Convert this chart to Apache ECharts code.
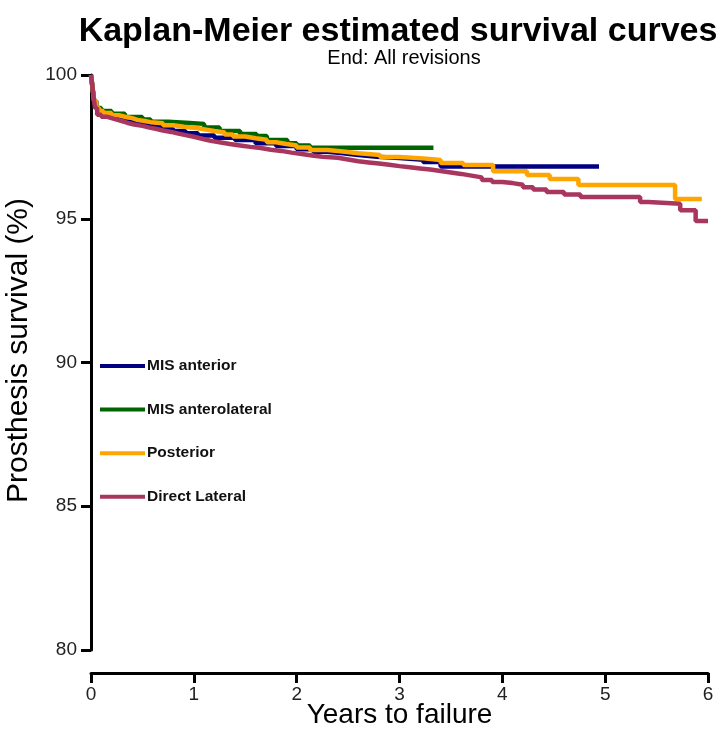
<!DOCTYPE html>
<html>
<head>
<meta charset="utf-8">
<script src="https://cdn.jsdelivr.net/npm/echarts@6/dist/echarts.min.js"></script>
<style>
html,body{margin:0;padding:0;background:#fff;}
#c{width:722px;height:729px;}
</style>
</head>
<body>
<div id="c"></div>
<script>
// ---- data ----
var seriesNames = ['MIS anterior', 'MIS anterolateral', 'Posterior', 'Direct Lateral'];
var xTicks = [0, 1, 2, 3, 4, 5, 6];
var yTicks = [80, 85, 90, 95, 100];

var antTime = [0, 0.01, 0.02, 0.03, 0.05, 0.08, 0.12, 0.2, 0.27, 0.33, 0.4, 0.45, 0.52, 0.58, 0.7, 0.8, 0.92, 1.04, 1.2, 1.4, 1.6, 1.8, 2.0, 2.16, 2.3, 2.45, 2.6, 2.78, 3.0, 3.23, 3.4, 4.94];
var antSurv = [100, 99.7, 99.4, 99.1, 98.85, 98.7, 98.62, 98.52, 98.45, 98.38, 98.33, 98.28, 98.24, 98.2, 98.12, 98.05, 97.97, 97.9, 97.82, 97.74, 97.63, 97.53, 97.42, 97.33, 97.28, 97.22, 97.16, 97.11, 97.05, 96.97, 96.82, 96.82];

var antlatTime = [0, 0.01, 0.02, 0.03, 0.05, 0.1, 0.2, 0.33, 0.5, 0.58, 0.75, 0.96, 1.1, 1.25, 1.45, 1.61, 1.71, 1.91, 2.0, 2.13, 3.33];
var antlatSurv = [100, 99.7, 99.4, 99.1, 98.85, 98.75, 98.65, 98.54, 98.45, 98.37, 98.33, 98.3, 98.17, 98.05, 97.95, 97.88, 97.74, 97.63, 97.55, 97.47, 97.47];

var postTime = [0, 0.01, 0.02, 0.03, 0.05, 0.08, 0.12, 0.2, 0.27, 0.33, 0.4, 0.45, 0.52, 0.58, 0.7, 0.8, 0.9, 1.04, 1.12, 1.2, 1.3, 1.38, 1.5, 1.6, 1.71, 1.8, 1.9, 2.0, 2.13, 2.3, 2.45, 2.6, 2.81, 3.0, 3.23, 3.4, 3.62, 3.91, 4.24, 4.46, 4.74, 5.68, 5.94];
var postSurv = [100, 99.7, 99.4, 99.1, 98.85, 98.75, 98.68, 98.6, 98.55, 98.5, 98.44, 98.4, 98.36, 98.32, 98.25, 98.2, 98.15, 98.1, 98.05, 98.0, 97.93, 97.86, 97.8, 97.75, 97.66, 97.6, 97.55, 97.48, 97.39, 97.34, 97.28, 97.22, 97.15, 97.1, 97.04, 96.94, 96.87, 96.65, 96.52, 96.38, 96.17, 95.69, 95.69];

var dlTime = [0, 0.01, 0.02, 0.03, 0.04, 0.06, 0.1, 0.15, 0.2, 0.25, 0.3, 0.35, 0.42, 0.5, 0.57, 0.64, 0.7, 0.78, 0.85, 0.92, 1.0, 1.06, 1.12, 1.18, 1.25, 1.35, 1.45, 1.55, 1.65, 1.75, 1.85, 1.95, 2.05, 2.15, 2.25, 2.4, 2.5, 2.6, 2.7, 2.8, 2.9, 3.0, 3.1, 3.2, 3.3, 3.4, 3.5, 3.6, 3.7, 3.8, 3.9, 4.0, 4.1, 4.2, 4.3, 4.43, 4.6, 4.76, 5.34, 5.42, 5.73, 5.88, 6.0];
var dlSurv = [100, 99.7, 99.4, 99.1, 98.85, 98.62, 98.55, 98.5, 98.45, 98.4, 98.34, 98.28, 98.23, 98.17, 98.12, 98.07, 98.02, 97.96, 97.91, 97.85, 97.8, 97.75, 97.7, 97.66, 97.6, 97.55, 97.5, 97.46, 97.4, 97.36, 97.3, 97.25, 97.2, 97.16, 97.12, 97.06, 97.0, 96.96, 96.92, 96.88, 96.83, 96.79, 96.75, 96.71, 96.66, 96.61, 96.56, 96.5, 96.44, 96.35, 96.28, 96.24, 96.18, 96.1, 96.02, 95.93, 95.84, 95.76, 95.58, 95.52, 95.3, 94.92, 94.92];

var colors = ['#000080', '#006400', '#FFA500', '#A8365F'];

function pairs(t, v) { return t.map(function (x, i) { return [x, v[i]]; }); }
var allData = [pairs(antTime, antSurv), pairs(antlatTime, antlatSurv), pairs(postTime, postSurv), pairs(dlTime, dlSurv)];

var chart = echarts.init(document.getElementById('c'), null, {renderer: 'canvas'});
var fontBase = '"Liberation Sans", Arial, sans-serif';

var option = {
  backgroundColor: '#fff',
  animation: false,
  color: colors,
  title: [
    {text: 'Kaplan-Meier estimated survival curves', left: 393, textAlign: 'center', top: 10,
     textStyle: {fontFamily: fontBase, fontWeight: 'bold', fontSize: 34, color: '#000'}},
    {text: 'End: All revisions', left: 399, textAlign: 'center', top: 43,
     textStyle: {fontFamily: fontBase, fontWeight: 'normal', fontSize: 20, color: '#000'}}
  ],
  legend: {
    orient: 'vertical', left: 95, top: 353, itemWidth: 45, itemHeight: 4, itemGap: 27.6,
    icon: 'rect', data: seriesNames,
    textStyle: {fontFamily: fontBase, fontWeight: 'bold', fontSize: 15.5, color: '#111', padding: [0, 0, 0, -3]}
  },
  grid: {left: 91, right: 14, top: 75, bottom: 79, containLabel: false, outerBoundsMode: 'none'},
  xAxis: {
    type: 'value', min: 0, max: 6, interval: 1, offset: 23,
    axisLine: {show: true, lineStyle: {color: '#000', width: 3}},
    axisTick: {show: true, length: 10, lineStyle: {color: '#000', width: 3}},
    axisLabel: {fontFamily: fontBase, fontSize: 19, color: '#222', margin: 12,
      formatter: function (v) { return xTicks.indexOf(v) >= 0 ? String(v) : ''; }},
    splitLine: {show: false},
    name: 'Years to failure', nameLocation: 'middle', nameGap: 28, nameMoveOverlap: false,
    nameTextStyle: {fontFamily: fontBase, fontSize: 28, color: '#000'}
  },
  yAxis: {
    type: 'value', min: 80, max: 100, interval: 5,
    axisLine: {show: true, lineStyle: {color: '#000', width: 3}},
    axisTick: {show: true, length: 10, lineStyle: {color: '#000', width: 3}},
    axisLabel: {fontFamily: fontBase, fontSize: 19, color: '#222', margin: 14,
      formatter: function (v) { return yTicks.indexOf(v) >= 0 ? String(v) : ''; }},
    splitLine: {show: false},
    name: 'Prosthesis survival (%)', nameLocation: 'middle', nameGap: 57, nameMoveOverlap: false,
    nameTextStyle: {fontFamily: fontBase, fontSize: 30, color: '#000', padding: [0, 0, 0, 24]}
  },
  series: seriesNames.map(function (n, i) {
    return {
      name: n, type: 'line', step: 'end', data: allData[i], showSymbol: false, symbol: 'none',
      lineStyle: {width: 4.5, color: colors[i]}, itemStyle: {color: colors[i]}, clip: false
    };
  })
};
chart.setOption(option);
</script>
</body>
</html>
